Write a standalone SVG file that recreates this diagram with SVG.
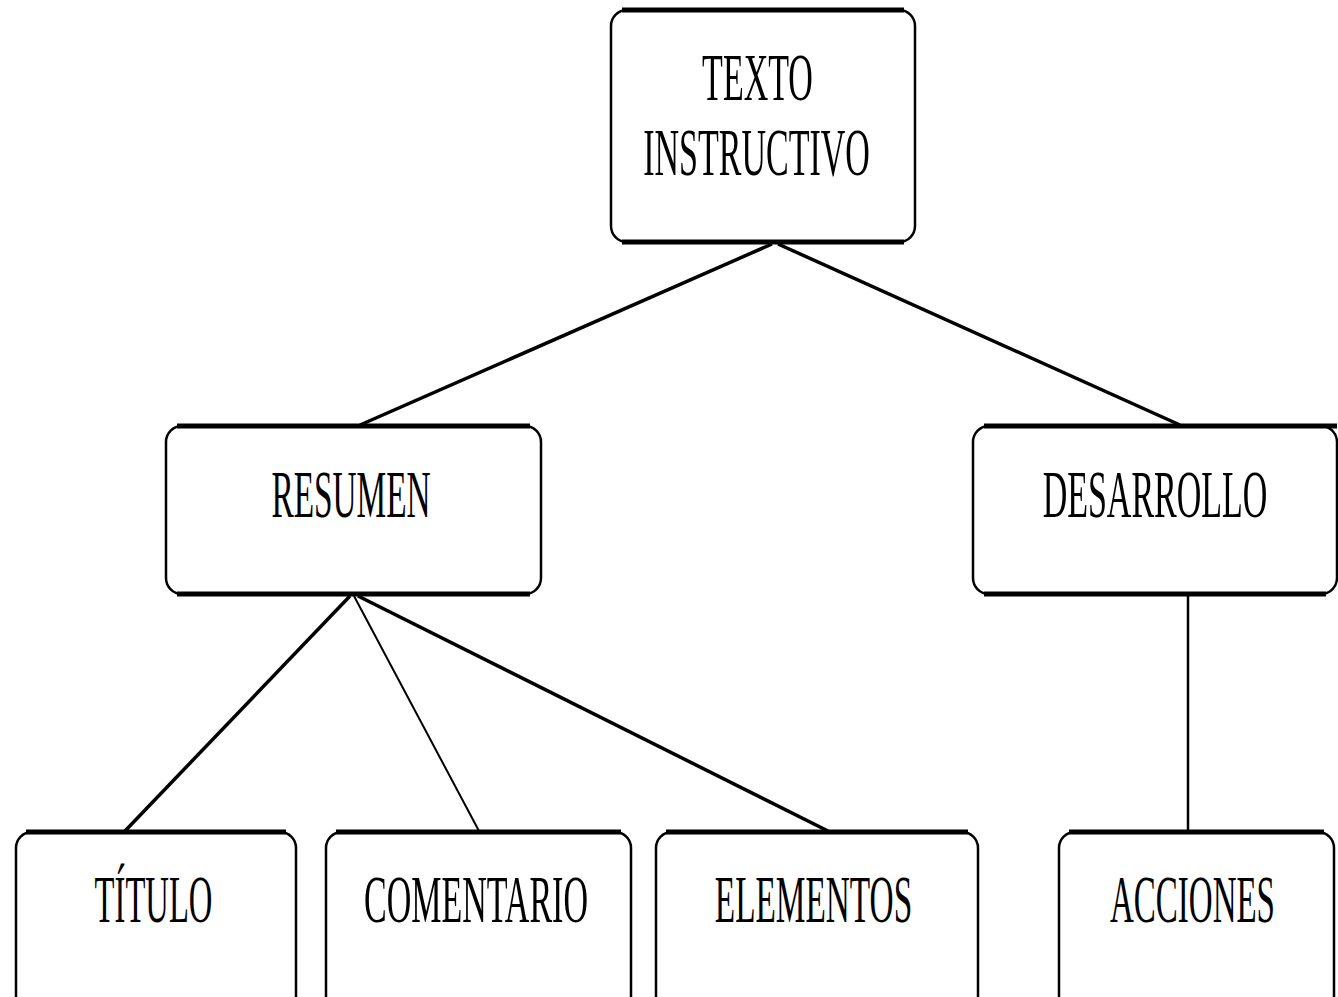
<svg xmlns="http://www.w3.org/2000/svg" width="1338" height="997" viewBox="0 0 1338 997">
<style>
.box{fill:#fff;stroke:#000;stroke-width:2.5}
.edge{stroke:#000;stroke-width:5;stroke-linecap:butt}
.lbl{font-family:"Liberation Serif","Times New Roman",serif;font-size:68px;fill:#000;text-anchor:middle}
.con{stroke:#000;stroke-width:3.5;fill:none}
</style>
<rect width="1338" height="997" fill="#fff"/>
<g id="connectors">
<line class="con" x1="772" y1="244" x2="360" y2="425"/>
<line class="con" x1="778" y1="244" x2="1180" y2="425"/>
<line class="con" x1="350" y1="596" x2="125" y2="831"/>
<line class="con" x1="354" y1="596" x2="479" y2="831" style="stroke-width:2"/>
<line class="con" x1="358" y1="596" x2="828" y2="831"/>
<line class="con" x1="1188" y1="594" x2="1188" y2="831" style="stroke-width:2.5"/>
</g>
<g id="texto-instructivo">
<rect class="box" x="611" y="10" width="304" height="232" rx="16"/>
<line class="edge" x1="622" y1="10" x2="904" y2="10"/>
<line class="edge" x1="622" y1="242" x2="904" y2="242"/>
<text class="lbl" transform="translate(757.5,100) scale(0.5,1)">TEXTO</text>
<text class="lbl" transform="translate(756.5,175) scale(0.5,1)">INSTRUCTIVO</text>
</g>
<g id="resumen">
<rect class="box" x="166" y="426" width="375" height="168" rx="16"/>
<line class="edge" x1="177" y1="426" x2="530" y2="426"/>
<line class="edge" x1="177" y1="594" x2="530" y2="594"/>
<text class="lbl" transform="translate(351,517) scale(0.49,1)">RESUMEN</text>
</g>
<g id="desarrollo">
<rect class="box" x="973" y="426" width="364" height="168" rx="16"/>
<line class="edge" x1="984" y1="426" x2="1337" y2="426"/>
<line class="edge" x1="984" y1="594" x2="1326" y2="594"/>
<text class="lbl" transform="translate(1155,517) scale(0.5,1)">DESARROLLO</text>
</g>
<g id="titulo">
<rect class="box" x="16" y="832" width="280" height="180" rx="16"/>
<line class="edge" x1="26" y1="832" x2="286" y2="832"/>
<text class="lbl" transform="translate(153.5,922) scale(0.48,1)">TÍTULO</text>
</g>
<g id="comentario">
<rect class="box" x="326" y="832" width="305" height="180" rx="16"/>
<line class="edge" x1="336" y1="832" x2="621" y2="832"/>
<text class="lbl" transform="translate(476,922) scale(0.5,1)">COMENTARIO</text>
</g>
<g id="elementos">
<rect class="box" x="656" y="832" width="322" height="180" rx="16"/>
<line class="edge" x1="666" y1="832" x2="968" y2="832"/>
<text class="lbl" transform="translate(813.5,922) scale(0.49,1)">ELEMENTOS</text>
</g>
<g id="acciones">
<rect class="box" x="1059" y="832" width="275" height="180" rx="16"/>
<line class="edge" x1="1069" y1="832" x2="1324" y2="832"/>
<text class="lbl" transform="translate(1192.5,922) scale(0.485,1)">ACCIONES</text>
</g>
</svg>
